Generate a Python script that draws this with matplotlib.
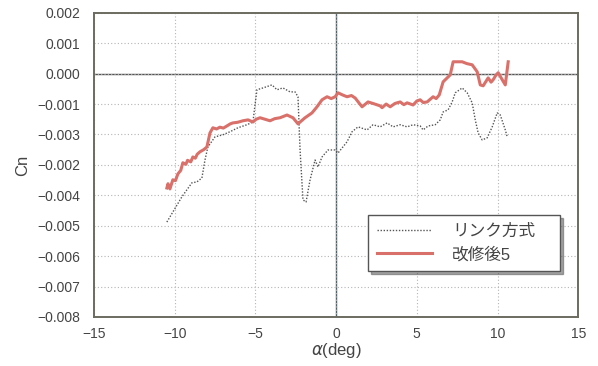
import matplotlib.pyplot as plt
from matplotlib.ticker import FixedLocator

plt.rcParams["font.family"] = ["Liberation Sans", "Noto Sans CJK JP", "DejaVu Sans"]

# angle of attack (deg) and yawing moment coefficient, link type
alpha_link = [-10.48, -10.11, -9.55, -9.24, -8.93, -8.62, -8.31, -8.12, -7.94, -7.50,
              -7.01, -6.57, -6.08, -5.52, -5.15, -5.02, -4.90, -4.53, -3.97, -3.66,
              -3.29, -2.85, -2.54, -2.36, -2.23, -2.05, -1.86, -1.61, -1.30, -1.12,
              -0.87, -0.50, -0.06, 0.12, 0.68, 0.99, 1.36, 1.92, 2.29, 2.73,
              3.16, 3.53, 3.97, 4.40, 4.77, 5.21, 5.39, 5.70, 6.14, 6.45,
              6.63, 6.94, 7.19, 7.38, 7.81, 8.12, 8.43, 8.62, 8.80, 9.05,
              9.36, 9.67, 9.98, 10.17, 10.48, 10.60]
cn_link = [-0.00488, -0.00455, -0.00405, -0.00382, -0.00359, -0.00356, -0.00343, -0.00284, -0.00241, -0.00208,
           -0.00201, -0.00191, -0.00178, -0.00168, -0.00159, -0.00103, -0.00053, -0.00047, -0.00037, -0.00053,
           -0.00047, -0.00060, -0.00060, -0.00076, -0.00251, -0.00415, -0.00422, -0.00349, -0.00284, -0.00307,
           -0.00274, -0.00251, -0.00251, -0.00261, -0.00224, -0.00191, -0.00175, -0.00185, -0.00168, -0.00175,
           -0.00162, -0.00175, -0.00168, -0.00175, -0.00168, -0.00172, -0.00185, -0.00172, -0.00168, -0.00152,
           -0.00126, -0.00119, -0.00093, -0.00063, -0.00047, -0.00063, -0.00096, -0.00152, -0.00195, -0.00218,
           -0.00211, -0.00175, -0.00129, -0.00136, -0.00185, -0.00208]

# modified design no.5
alpha_mod = [-10.48, -10.41, -10.29, -10.11, -9.95, -9.80, -9.62, -9.49, -9.30, -9.20,
             -9.00, -8.87, -8.72, -8.60, -8.43, -8.20, -8.00, -7.81, -7.63, -7.40,
             -7.20, -6.98, -6.76, -6.55, -6.39, -6.10, -5.77, -5.45, -5.15, -4.95,
             -4.71, -4.40, -4.09, -3.80, -3.47, -3.04, -2.67, -2.36, -1.92, -1.49,
             -1.18, -0.87, -0.56, -0.30, -0.06, 0.12, 0.40, 0.68, 0.95, 1.18,
             1.40, 1.61, 1.98, 2.40, 2.73, 2.85, 3.10, 3.35, 3.65, 3.97,
             4.20, 4.40, 4.77, 5.00, 5.21, 5.40, 5.64, 6.01, 6.20, 6.39,
             6.63, 7.07, 7.25, 7.81, 8.10, 8.43, 8.74, 8.93, 9.11, 9.42,
             9.60, 9.73, 9.90, 10.04, 10.29, 10.48, 10.66]
cn_mod = [-0.00376, -0.00362, -0.00379, -0.00349, -0.00352, -0.00330, -0.00318, -0.00293, -0.00298, -0.00285,
          -0.00290, -0.00274, -0.00278, -0.00265, -0.00257, -0.00250, -0.00241, -0.00195, -0.00178, -0.00182,
          -0.00176, -0.00179, -0.00172, -0.00165, -0.00162, -0.00160, -0.00155, -0.00152, -0.00159, -0.00150,
          -0.00145, -0.00150, -0.00155, -0.00148, -0.00145, -0.00136, -0.00145, -0.00165, -0.00145, -0.00129,
          -0.00109, -0.00086, -0.00076, -0.00082, -0.00076, -0.00063, -0.00070, -0.00076, -0.00072, -0.00080,
          -0.00095, -0.00109, -0.00093, -0.00100, -0.00106, -0.00112, -0.00100, -0.00109, -0.00098, -0.00093,
          -0.00102, -0.00096, -0.00103, -0.00090, -0.00086, -0.00095, -0.00093, -0.00076, -0.00082, -0.00070,
          -0.00027, -0.00004, 0.00039, 0.00039, 0.00033, 0.00029, 0.00006, -0.00037, -0.00040, -0.00014,
          -0.00028, -0.00020, -0.00005, 0.00003, -0.00020, -0.00037, 0.00039]

y_ticks = [0.002, 0.001, 0.0, -0.001, -0.002, -0.003, -0.004, -0.005, -0.006, -0.007, -0.008]
y_tick_labels = ["0.002", "0.001", "0.000", "\u22120.001", "\u22120.003", "\u22120.002",
                 "\u22120.004", "\u22120.005", "\u22120.006", "\u22120.007", "\u22120.008"]
x_ticks = [-15, -10, -5, 0, 5, 10, 15]

fig = plt.figure(figsize=(5.98, 3.66), dpi=100)
ax = fig.add_axes([0.157, 0.134, 0.81, 0.831])

ax.axhline(0, color="#555555", lw=1.0, zorder=1)
ax.axvline(0, color="#4f5f66", lw=1.0, zorder=1)

ax.plot(alpha_link, cn_link, color="#555555", lw=1.0, ls=(0, (1, 1.2)),
        label="リンク方式", zorder=3)
ax.plot(alpha_mod, cn_mod, color="#d9706a", lw=2.2, label="改修後5", zorder=4)

ax.set_xlim(-15, 15)
ax.set_ylim(-0.008, 0.002)
ax.xaxis.set_major_locator(FixedLocator(x_ticks))
ax.set_yticks(y_ticks)
ax.set_yticklabels(y_tick_labels)
ax.grid(True, color="#b5b5b5", ls=(0, (1, 2)), lw=0.8)
ax.tick_params(length=0, labelsize=10, labelcolor="#444444")
ax.tick_params(axis="y", pad=10)
ax.tick_params(axis="x", pad=7)

for s in ax.spines.values():
    s.set_color("#6b6b60")
    s.set_linewidth(1.4)

ax.set_xlabel(r"$\alpha$(deg)", fontsize=12, color="#444444", labelpad=0)
ax.set_ylabel("Cn", fontsize=12, color="#444444", labelpad=5)

# legend box spans a fixed area in the lower right of the axes
leg = ax.legend(loc="upper left", bbox_to_anchor=(0.566, 0.148, 0.397, 0.188),
                mode="expand", fontsize=12, frameon=True, fancybox=False,
                shadow=True, borderpad=0.55, handlelength=3.3, handletextpad=1.2,
                labelspacing=0.45, borderaxespad=0, labelcolor="#444444")
leg.get_frame().set_edgecolor("#555555")
leg.get_frame().set_linewidth(1.0)

fig.savefig("out.png", dpi=100)
